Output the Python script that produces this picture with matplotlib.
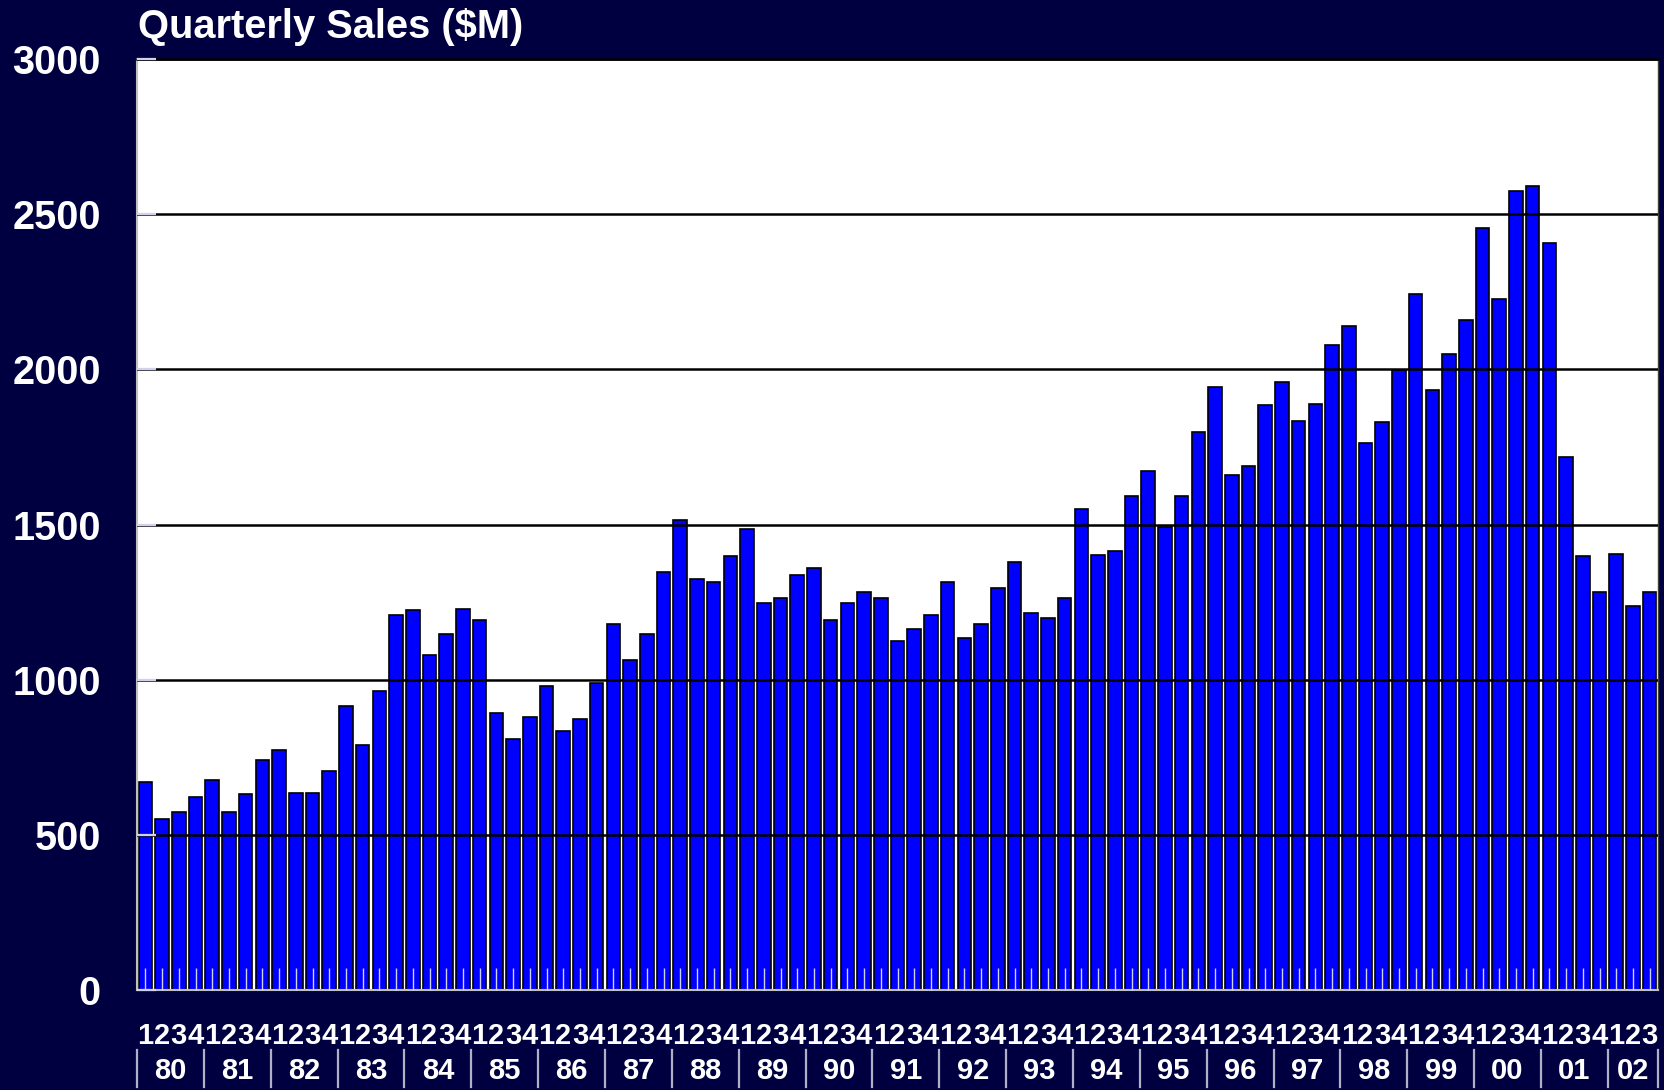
"""Quarterly sales bar chart, 1980 Q1 - 2002 Q3."""
import matplotlib
matplotlib.use("Agg")
import matplotlib.pyplot as plt
import matplotlib.transforms as mtransforms
import numpy as np

years = ["80", "81", "82", "83", "84", "85", "86", "87", "88", "89", "90",
         "91", "92", "93", "94", "95", "96", "97", "98", "99", "00", "01", "02"]
quarters_per_year = [4] * 22 + [3]

# sales in $M, one value per quarter
sales = [
    671, 551, 575, 623,      # 80
    678, 575, 630, 740,      # 81
    774, 634, 634, 705,      # 82
    914, 791, 962, 1209,     # 83
    1223, 1079, 1147, 1229,  # 84
    1192, 894, 808, 880,     # 85
    979, 836, 873, 990,      # 86
    1178, 1062, 1147, 1346,  # 87
    1514, 1325, 1315, 1397,  # 88
    1486, 1247, 1264, 1336,  # 89
    1360, 1192, 1247, 1281,  # 90
    1264, 1123, 1164, 1209,  # 91
    1315, 1134, 1178, 1295,  # 92
    1380, 1216, 1199, 1264,  # 93
    1551, 1401, 1414, 1592,  # 94
    1671, 1493, 1592, 1798,  # 95
    1942, 1661, 1688, 1884,  # 96
    1959, 1832, 1887, 2079,  # 97
    2140, 1764, 1829, 1997,  # 98
    2243, 1935, 2051, 2158,  # 99
    2455, 2226, 2575, 2592,  # 00
    2408, 1716, 1397, 1281,  # 01
    1404, 1236, 1284,        # 02
]
yticks = [0, 500, 1000, 1500, 2000, 2500, 3000]

BG = "#000040"
BAR = "#0000ff"
LIGHT = "#d0d0f0"

plt.rcParams["font.family"] = ["Liberation Sans", "DejaVu Sans"]
plt.rcParams["font.weight"] = "bold"

fig = plt.figure(figsize=(16.64, 10.9), dpi=100, facecolor=BG)
ax = fig.add_axes([137 / 1664, 100 / 1090, 1521 / 1664, 931 / 1090])
ax.set_facecolor("white")

x = np.arange(len(sales))
qlabels = [str(q + 1) for n in quarters_per_year for q in range(n)]

ax.bar(x, sales, width=0.82, color=BAR, edgecolor="black", linewidth=1.2, zorder=1)

ax.set_xlim(-0.5, len(sales) - 0.5)
ax.set_ylim(0, 3000)
ax.set_yticks(yticks)
ax.set_yticklabels([str(v) for v in yticks])
ax.set_xticks(x)
ax.set_xticklabels(qlabels)

ax.tick_params(axis="y", direction="in", length=14, width=1.6, color=LIGHT,
               pad=26, labelsize=28.5, labelcolor="white")
ax.tick_params(axis="x", direction="in", length=16, width=1.0, color=LIGHT,
               pad=23, labelsize=21, labelcolor="white")
for lab in ax.get_xticklabels() + ax.get_yticklabels():
    lab.set_fontweight("bold")

ax.set_axisbelow(False)
ax.yaxis.grid(True, color="black", linewidth=1.8)
ax.get_ygridlines()[0].set_visible(False)

for side in ["left", "bottom"]:
    ax.spines[side].set_color("#c0c0c0")
    ax.spines[side].set_linewidth(1.5)
ax.spines["top"].set_color("black")
ax.spines["top"].set_linewidth(1.8)
ax.spines["right"].set_color("#404040")
ax.spines["right"].set_linewidth(1.0)

# year labels and separators under the quarter numbers
trans = mtransforms.blended_transform_factory(ax.transData, ax.transAxes)
bounds = np.concatenate([[0], np.cumsum(quarters_per_year)]) - 0.5
for xb in bounds:
    ax.plot([xb, xb], [-0.0644, -0.1042], color="#b0b0c8", lw=1.6,
            transform=trans, clip_on=False)
for yr, lo, hi in zip(years, bounds[:-1], bounds[1:]):
    ax.text((lo + hi) / 2, -0.0870, yr, transform=trans, ha="center",
            va="center", fontsize=21, fontweight="bold", color="white")

fig.text(138 / 1664, 1 - 27 / 1090, "Quarterly Sales ($M)", ha="left",
         va="center", fontsize=28.7, fontweight="bold", color="white")

fig.savefig("out.png", dpi=100, facecolor=BG)
